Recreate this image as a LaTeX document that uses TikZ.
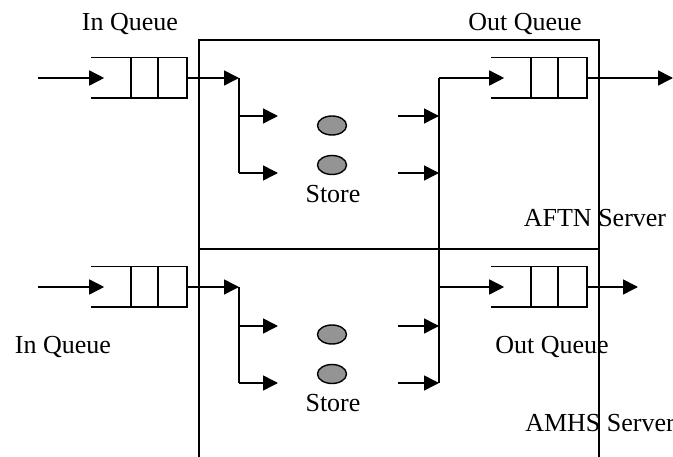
\documentclass[tikz,border=0pt]{standalone}
\usepackage{fontspec}
\setmainfont{Liberation Serif}
\usetikzlibrary{arrows.meta,shapes.geometric}
\begin{document}
\begin{tikzpicture}[x=1pt,y=-1pt,line width=1.6pt,
  arr/.style={-{Triangle[length=15pt,width=15pt]}},
  queue/.style={rectangle,minimum width=94pt,minimum height=39pt,inner sep=0pt},
  store/.style={ellipse,draw,line width=1.4pt,fill=black!42,minimum width=29pt,minimum height=19pt,inner sep=0pt},
  lbl/.style={font=\fontsize{26}{30}\selectfont,inner sep=0pt}]
\useasboundingbox (0,0) rectangle (673,457);
\clip (0,0) rectangle (673,457);
% server frame
\draw (199,457) -- (199,40) -- (599,40) -- (599,457);
\draw (199,249) -- (599,249);
% queues
\foreach \n/\x/\y in {iqa/139/78, oqa/539/78, iqb/139/287, oqb/539/287}{
  \node[queue] (\n) at (\x,\y) {};
  \draw (\n.north west) -- (\n.north east) -- (\n.south east) -- (\n.south west);
  \draw ([xshift=40pt]\n.north west) -- ([xshift=40pt]\n.south west);
  \draw ([xshift=67pt]\n.north west) -- ([xshift=67pt]\n.south west);
}
% stores
\node[store] (sa1) at (332,125.5) {};
\node[store] (sa2) at (332,165) {};
\node[store] (sb1) at (332,334.5) {};
\node[store] (sb2) at (332,374) {};
\node[lbl] (sta) at (333,194) {Store};
\node[lbl] (stb) at (333,403) {Store};
% labels
\node[lbl] (liqa) at (130,24) {In Queue};
\node[lbl] (loqa) at (525,24) {Out Queue};
\node[lbl] (lafn) at (595,218) {AFTN Server};
\node[lbl] (liqb) at (63,347) {In Queue};
\node[lbl] (loqb) at (552,347) {Out Queue};
\node[lbl] (lamh) at (600,423) {AMHS Server};
% coordinates
\coordinate (ina) at (38,78);
\coordinate (inb) at (38,287);
\coordinate (spa) at (239,78);
\coordinate (spa1) at (239,116);
\coordinate (spa2) at (239,173);
\coordinate (spb) at (239,287);
\coordinate (spb1) at (239,326);
\coordinate (spb2) at (239,383);
\coordinate (ta1) at (278,116);
\coordinate (ta2) at (278,173);
\coordinate (tb1) at (278,326);
\coordinate (tb2) at (278,383);
\coordinate (ra1) at (398,116);
\coordinate (ra2) at (398,173);
\coordinate (rb1) at (398,326);
\coordinate (rb2) at (398,383);
\coordinate (ca1) at (439,116);
\coordinate (ca2) at (439,173);
\coordinate (cb1) at (439,326);
\coordinate (cb2) at (439,383);
\coordinate (ctop) at (439,78);
\coordinate (cmid) at (439,287);
\coordinate (outa) at (673,78);
\coordinate (outb) at (638,287);
% connectors
\draw[arr] (ina) -- ([xshift=13pt]iqa.west);
\draw[arr] (inb) -- ([xshift=13pt]iqb.west);
\draw[arr] (iqa.east) -- (spa);
\draw[arr] (iqb.east) -- (spb);
\draw (spa) -- (spa2);
\draw (spb) -- (spb2);
\draw[arr] (spa1) -- (ta1);
\draw[arr] (spa2) -- (ta2);
\draw[arr] (spb1) -- (tb1);
\draw[arr] (spb2) -- (tb2);
\draw[arr] (ra1) -- (ca1);
\draw[arr] (ra2) -- (ca2);
\draw[arr] (rb1) -- (cb1);
\draw[arr] (rb2) -- (cb2);
\draw (ctop) -- (cb2);
\draw[arr] (ctop) -- ([xshift=13pt]oqa.west);
\draw[arr] (cmid) -- ([xshift=13pt]oqb.west);
\draw[arr] (oqa.east) -- (outa);
\draw[arr] (oqb.east) -- (outb);
\end{tikzpicture}
\end{document}
